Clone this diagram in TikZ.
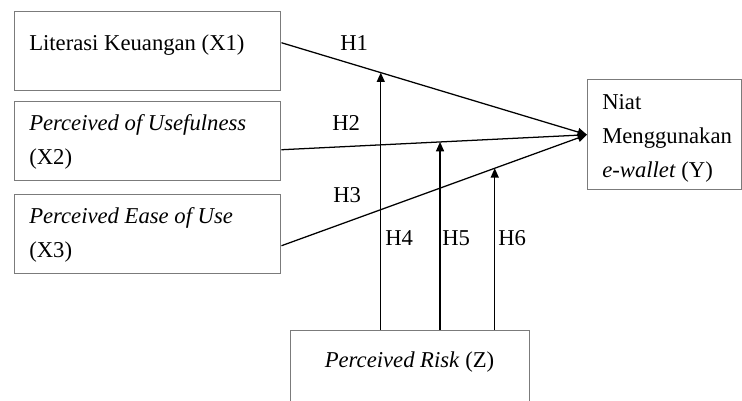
\documentclass[tikz,border=0pt]{standalone}
\usepackage{fontspec}
\setmainfont{Liberation Serif}
\usetikzlibrary{arrows.meta, calc}
\definecolor{boxgray}{HTML}{7b7b7b}

\begin{document}
\begin{tikzpicture}[x=0.75pt, y=-0.75pt, font=\fontsize{17}{25.5}\selectfont,
    box/.style={draw=boxgray, line width=1.1pt, rectangle, inner sep=0pt, anchor=north west},
    lbl/.style={inner sep=0pt, anchor=base west, align=left},
    arr/.style={-{Triangle[length=7pt, width=6pt]}, line width=0.95pt}]
\useasboundingbox (0,0) rectangle (742,400);
% variable boxes
\node[box, minimum width=199.5pt, minimum height=59.25pt] (x1) at (14,11) {};
\node[box, minimum width=199.5pt, minimum height=59.25pt] (x2) at (14,101) {};
\node[box, minimum width=199.5pt, minimum height=59.25pt] (x3) at (14,194) {};
\node[box, minimum width=115.5pt, minimum height=82.5pt] (y) at (587,79) {};
\node[box, minimum width=179.25pt, minimum height=67.5pt] (z) at (290,330) {};
% texts (base = last line)
\node[lbl] (t1) at (29,50) {Literasi Keuangan (X1)};
\node[lbl] (t2) at (29,164) {\textit{Perceived of Usefulness}\\(X2)};
\node[lbl] (t3) at (29,257) {\textit{Perceived Ease of Use}\\(X3)};
\node[lbl] (ty) at (602,177) {Niat\\Menggunakan\\\textit{e-wallet} (Y)};
\node[lbl, anchor=base] (tz) at (409.5,367) {\textit{Perceived Risk} (Z)};
% direct paths
\coordinate (s1) at ($(x1.east)+(0,-8.5)$);
\coordinate (s2) at ($(x2.east)+(0,8.5)$);
\coordinate (s3) at ($(x3.east)+(0,11.5)$);
\foreach \s in {s1,s2,s3}
  \draw[arr] (\s) -- (y.west);
% moderation
\coordinate (m4) at ($(s1)!0.325!(y.west)$);
\coordinate (m5) at ($(s2)!0.519!(y.west)$);
\coordinate (m6) at ($(s3)!0.698!(y.west)$);
\foreach \m in {m4,m5,m6}
  \draw[arr] (\m |- z.north) -- (\m);
\node[lbl] (h1) at (340,50) {H1};
\node[lbl] (h2) at (332,130) {H2};
\node[lbl] (h3) at (333,202) {H3};
\foreach \n/\x in {4/385,5/442,6/498}
  \node[lbl] (h\n) at (\x,245) {H\n};
\end{tikzpicture}
\end{document}
